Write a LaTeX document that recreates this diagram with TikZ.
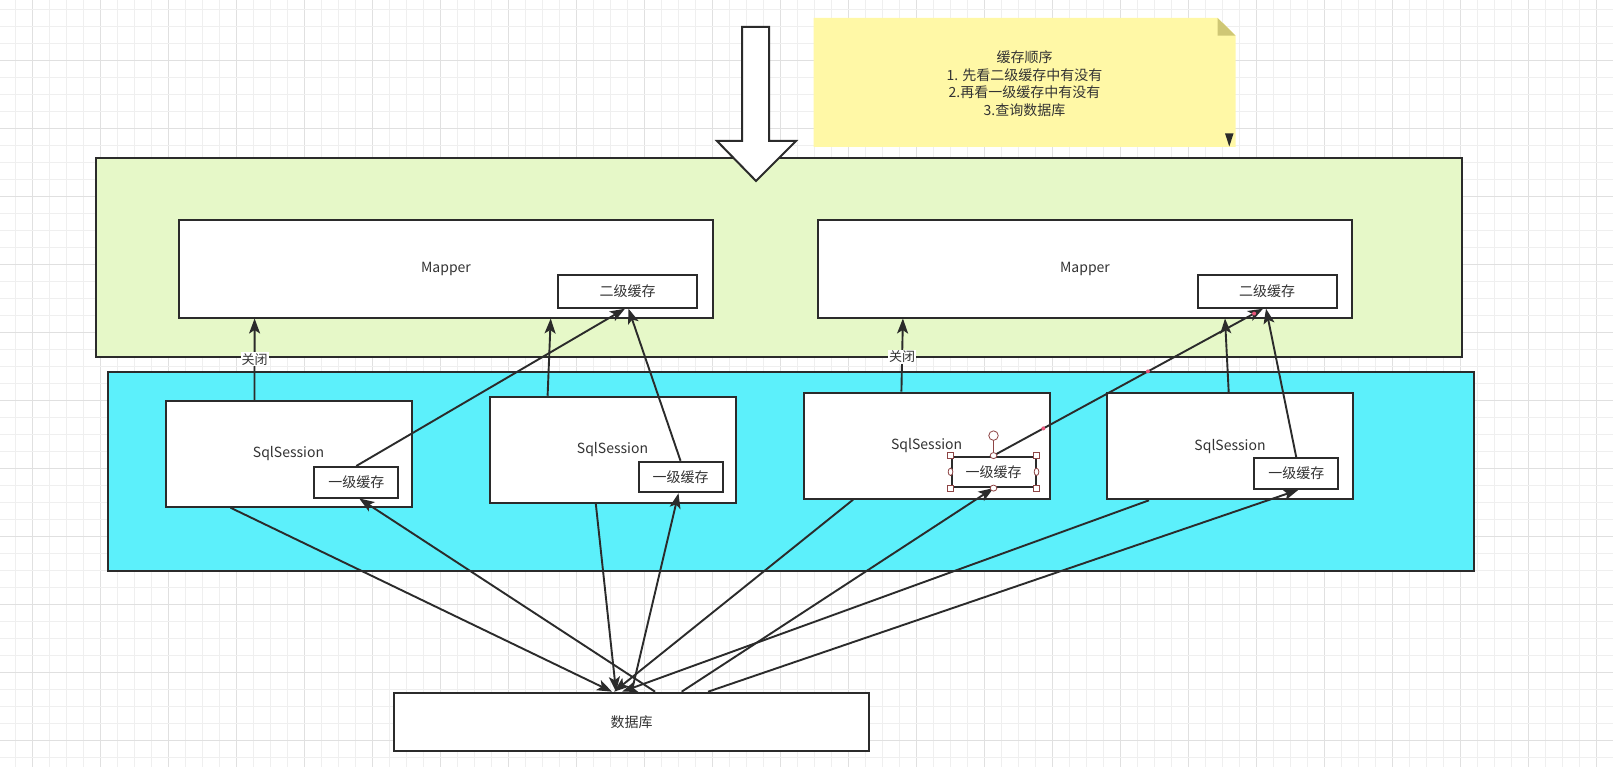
\documentclass[tikz,border=0pt]{standalone}
\usepackage{fontspec}
\setmainfont{Noto Sans CJK SC}
\usetikzlibrary{arrows.meta,calc,shapes.geometric}
\definecolor{ink}{HTML}{2B2B2B}
\definecolor{txt}{HTML}{333333}
\definecolor{gfill}{HTML}{E6F8C8}
\definecolor{cfill}{HTML}{5CF0FB}
\definecolor{nfill}{HTML}{FFF8A6}
\definecolor{nfold}{HTML}{CFC775}
\definecolor{gridminor}{HTML}{EFEFEF}
\definecolor{gridmajor}{HTML}{E0E0E0}
\definecolor{handle}{HTML}{8E4545}
\definecolor{pinkdot}{HTML}{E8557A}
\begin{document}
\begin{tikzpicture}[x=1pt,y=-1pt,
  container/.style={draw=ink, line width=2pt, inner sep=0pt},
  box/.style={draw=ink, line width=2pt, fill=white, text=txt, inner sep=0pt,
    font=\fontsize{14}{17}\selectfont},
  sessbox/.style={box, minimum width=246pt, minimum height=106pt},
  l1box/.style={box, minimum width=84pt, minimum height=30.5pt},
  l2box/.style={box, minimum width=139pt, minimum height=32.7pt},
  mapbox/.style={box, minimum width=534pt, minimum height=97.5pt},
  arr/.style={draw=ink, line width=1.9pt, -{Stealth[length=15pt,width=11pt,inset=3.5pt]}},
  lbl/.style={fill=white, text=txt, inner sep=1pt, font=\fontsize{13}{15}\selectfont},
  hsq/.style={draw=handle, fill=white, line width=0.8pt, rectangle, minimum size=6pt, inner sep=0pt},
  hcirc/.style={draw=handle, fill=white, line width=0.8pt, ellipse, inner sep=0pt},
  pdot/.style={circle, fill=pinkdot, minimum size=4pt, inner sep=0pt}
]
\useasboundingbox (0,0) rectangle (1613,767);
\fill[white] (0,0) rectangle (1613,767);
% grid
\foreach \k in {-1,...,95}{
  \pgfmathtruncatemacro{\m}{mod(\k+7,4)}
  \ifnum\m=0
    \draw[gridmajor, line width=0.9pt] ({15.7+17*\k},0) -- ({15.7+17*\k},767);
  \else
    \draw[gridminor, line width=0.8pt] ({15.7+17*\k},0) -- ({15.7+17*\k},767);
  \fi
}
\foreach \k in {-1,...,45}{
  \pgfmathtruncatemacro{\m}{mod(\k+9,4)}
  \ifnum\m=0
    \draw[gridmajor, line width=0.9pt] (0,{9+17*\k}) -- (1613,{9+17*\k});
  \else
    \draw[gridminor, line width=0.8pt] (0,{9+17*\k}) -- (1613,{9+17*\k});
  \fi
}

% containers
\node[container, fill=gfill, minimum width=1366pt, minimum height=199pt] (green) at (779,257.5) {};
\node[container, fill=cfill, minimum width=1366pt, minimum height=199pt] (cyan) at (791,471.5) {};

% big down arrow
\draw[ink, line width=2pt, fill=white, line join=miter]
  (742,27) -- (769,27) -- (769,141) -- (796,141) -- (756,181) -- (717,141) -- (742,141) -- cycle;

% note
\fill[nfill] (813.6,18) -- (1217.7,18) -- (1235.5,35.7) -- (1235.5,147) -- (813.6,147) -- cycle;
\fill[nfold] (1217.7,18) -- (1235.5,35.7) -- (1217.7,35.7) -- cycle;
\fill[ink] (1225,133.5) -- (1233.5,133.5) -- (1229.3,146.5) -- cycle;
\node[text=txt, align=center, font=\fontsize{14}{17.5}\selectfont, inner sep=0pt] (note) at (1024.5,83.5)
  {缓存顺序\\1. 先看二级缓存中有没有\\2.再看一级缓存中有没有\\3.查询数据库};

% mappers
\node[mapbox] (m1) at (446,268.75) {Mapper};
\node[l2box] (l2c1) at (627.5,291.35) {二级缓存};
\node[mapbox] (m2) at (1085,268.75) {Mapper};
\node[l2box] (l2c2) at (1267,291.35) {二级缓存};

% sessions
\node[sessbox] (s1) at (288.5,453.75) {SqlSession};
\node[l1box] (l1c1) at (356.25,482.25) {一级缓存};
\node[sessbox] (s2) at (612.5,449.75) {SqlSession};
\node[l1box] (l1c2) at (680.5,477) {一级缓存};
\node[sessbox] (s3) at (926.65,445.7) {SqlSession};
\node[l1box] (l1c3) at (993.5,471.85) {一级缓存};
\node[sessbox] (s4) at (1230,446.3) {SqlSession};
\node[l1box] (l1c4) at (1296.3,473.65) {一级缓存};

% database
\node[box, minimum width=474.7pt, minimum height=58.3pt] (db) at (631.65,721.85) {数据库};

% upper connectors
\draw[arr] ([xshift=-34pt]s1.north) -- ([xshift=-191.4pt]m1.south) node[lbl, pos=0.5] {关闭};
\draw[arr] ([xshift=-64.9pt]s2.north) -- ([xshift=104.7pt]m1.south);
\draw[arr] (l1c1.north) -- ([xshift=-2.5pt]l2c1.south);
\draw[arr] (l1c2.north) -- ([xshift=1pt]l2c1.south);
\draw[arr] ([xshift=-25.25pt]s3.north) -- ([xshift=-182.1pt]m2.south) node[lbl, pos=0.48] {关闭};
\draw[arr] ([xshift=-1.3pt]s4.north) -- ([xshift=140pt]m2.south);
\draw[arr] (l1c3.north) -- ([xshift=-4pt]l2c2.south)
  node[pdot, pos=0.185] {} node[pdot, pos=0.573] {} node[pdot, pos=0.967] {};
\draw[arr] (l1c4.north) -- ([xshift=-1pt]l2c2.south);

% lower connectors
\draw[arr] ([xshift=-57.9pt]s1.south) -- ([xshift=-19.6pt]db.north);
\draw[arr] ([xshift=23.4pt]db.north) -- ([xshift=3pt]l1c1.south);
\draw[arr] ([xshift=-16.7pt]s2.south) -- ([xshift=-15.6pt]db.north);
\draw[arr] (db.north) -- ([xshift=-2pt]l1c2.south);
\draw[arr] ([xshift=-73.6pt]s3.south) -- ([xshift=-17.6pt]db.north);
\draw[arr] ([xshift=50pt]db.north) -- (l1c3.south);
\draw[arr] ([xshift=-81pt]s4.south) -- ([xshift=-9.6pt]db.north);
\draw[arr] ([xshift=76.4pt]db.north) -- ([xshift=2pt]l1c4.south);

% selection handles on the third first-level cache
\draw[handle, line width=0.8pt] (l1c3.north) -- ([yshift=15.5pt]l1c3.north);
\node[hcirc, minimum width=9.5pt, minimum height=9.5pt] at ([yshift=20pt]l1c3.north) {};
\foreach \a in {north west, north east, south west, south east}
  \node[hsq] at (l1c3.\a) {};
\node[hcirc, minimum width=6.7pt, minimum height=6pt] at (l1c3.north) {};
\node[hcirc, minimum width=6.7pt, minimum height=6pt] at (l1c3.south) {};
\node[hcirc, minimum width=4.7pt, minimum height=7.3pt] at (l1c3.west) {};
\node[hcirc, minimum width=4.7pt, minimum height=7.3pt] at (l1c3.east) {};
\end{tikzpicture}
\end{document}
